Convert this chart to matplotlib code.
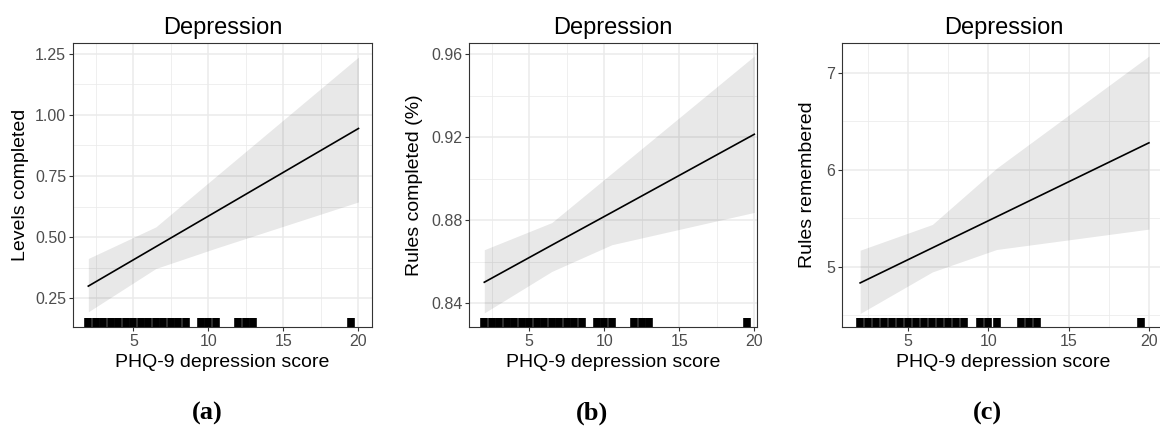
import numpy as np
import matplotlib
matplotlib.use("Agg")
import matplotlib.pyplot as plt

plt.rcParams['font.family'] = ['Liberation Sans', 'DejaVu Sans']

# predicted effect of PHQ-9 score, with 95% band
score = [2, 6.5, 10.5, 20]
rug_x = [2, 2.5, 3, 3.5, 4, 4.5, 5, 5.5, 6, 6.5, 7, 7.5, 8, 8.5,
         9.5, 10, 10.5, 12, 12.5, 13, 19.5]

levels_fit = [0.30, 0.461, 0.604, 0.944]
levels_lo = [0.195, 0.372, 0.455, 0.644]
levels_hi = [0.413, 0.542, 0.748, 1.236]

rules_fit = [0.850, 0.8679, 0.8837, 0.9214]
rules_lo = [0.8352, 0.8552, 0.8681, 0.8837]
rules_hi = [0.8657, 0.8788, 0.9026, 0.9592]

remem_fit = [4.835, 5.196, 5.516, 6.278]
remem_lo = [4.52, 4.948, 5.179, 5.389]
remem_hi = [5.172, 5.437, 6.016, 7.172]

panels = [
    dict(fit=levels_fit, lo=levels_lo, hi=levels_hi, ylabel="Levels completed",
         yticks=[0.25, 0.50, 0.75, 1.00, 1.25], fmt="{:.2f}", minor=[0.375, 0.625, 0.875, 1.125],
         ylim=(0.133, 1.292), xlim=(0.98, 20.9), pos=[73, 372], tag="(a)", tagx=207, ylx=20),
    dict(fit=rules_fit, lo=rules_lo, hi=rules_hi, ylabel="Rules completed (%)",
         yticks=[0.84, 0.88, 0.92, 0.96], fmt="{:.2f}", minor=[0.86, 0.90, 0.94],
         ylim=(0.8284, 0.9653), xlim=(1.0, 20.18), pos=[469.3, 757], tag="(b)", tagx=592, ylx=415),
    dict(fit=remem_fit, lo=remem_lo, hi=remem_hi, ylabel="Rules remembered",
         yticks=[5, 6, 7], fmt="{:.0f}", minor=[4.5, 5.5, 6.5],
         ylim=(4.381, 7.303), xlim=(0.87, 21.0), pos=[842, 1165], tag="(c)", tagx=987, ylx=808),
]

W, H = 1160, 429
fig = plt.figure(figsize=(W / 100, H / 100), dpi=100)
top, bottom = 43.3, 327

for p in panels:
    l, r = p["pos"]
    ax = fig.add_axes([l / W, 1 - bottom / H, (r - l) / W, (bottom - top) / H])
    ax.fill_between(score, p["lo"], p["hi"], color="black", alpha=0.09, linewidth=0, zorder=2)
    ax.plot(score, p["fit"], color="black", linewidth=1.2, zorder=3)
    ax.vlines(rug_x, 0, 0.03, transform=ax.get_xaxis_transform(),
              colors="black", linewidth=5.5, zorder=4)

    ax.set_xlim(*p["xlim"])
    ax.set_ylim(*p["ylim"])
    ax.set_xticks([5, 10, 15, 20])
    ax.set_xticks([2.5, 7.5, 12.5, 17.5], minor=True)
    ax.set_yticks(p["yticks"])
    ax.set_yticklabels([p["fmt"].format(v) for v in p["yticks"]])
    ax.set_yticks(p["minor"], minor=True)
    ax.grid(which="major", color="#EBEBEB", linewidth=1.1, zorder=0)
    ax.grid(which="minor", color="#EBEBEB", linewidth=0.55, zorder=0)
    ax.set_axisbelow(True)
    ax.tick_params(which="major", length=3, width=0.8, color="#333333",
                   labelcolor="#4D4D4D", labelsize=11.5, pad=2)
    ax.tick_params(which="minor", length=0)
    for s in ax.spines.values():
        s.set_color("#333333")
        s.set_linewidth(0.8)

    ax.set_title("Depression", fontsize=17, pad=7)
    ax.set_xlabel("PHQ-9 depression score", fontsize=14, labelpad=3.5)
    ax.set_ylabel(p["ylabel"], fontsize=14)
    ax.yaxis.label.set_va("center")
    ax.yaxis.set_label_coords((p["ylx"] - l) / (r - l), 0.5)
    fig.text(p["tagx"] / W, 1 - 413 / H, p["tag"], ha="center", va="center",
             fontsize=19, fontweight="bold", family=["Liberation Serif", "DejaVu Serif"])

fig.savefig("out.png", dpi=100)
